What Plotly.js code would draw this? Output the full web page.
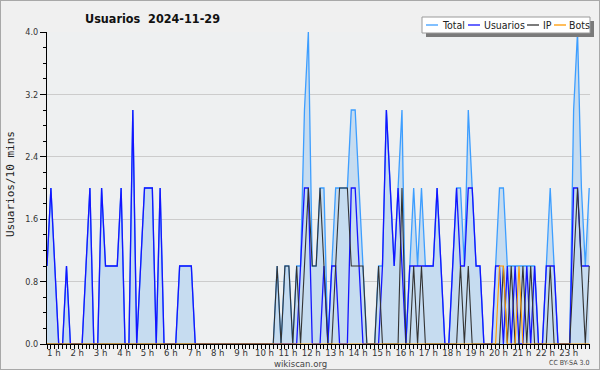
<!DOCTYPE html>
<html><head><meta charset="utf-8">
<script src="https://cdn.plot.ly/plotly-3.0.1.min.js"></script>
<style>
html,body{margin:0;padding:0;background:#f0f0f0;}
#wrap{width:600px;height:370px;box-sizing:border-box;border:1px solid #a8a8a8;background:#f0f0f0;}
#chart{width:598px;height:368px;}
</style></head><body>
<div id="wrap"><div id="chart"></div></div>
<script>
// values per 10-minute slot
const total = [
 1,2,1,0,0,1,0,0,0,0,
 1,2,0,0,2,1,1,1,1,2,
 0,0,3,0,1,2,2,2,0,2,
 0,0,0,0,1,1,1,1,0,0,
 0,0,0,0,0,0,0,0,0,0,
 0,0,0,0,0,0,0,0,0,1,
 0,1,1,0,1,1,3,4,1,1,
 2,2,0,1,2,2,2,2,3,3,
 2,1,0,0,0,1,1,3,2,1,
 2,3,0,1,2,1,2,1,1,1,
 2,1,0,0,1,2,2,1,3,2,
 1,1,0,0,0,1,2,2,1,1,
 1,1,1,1,1,1,0,0,1,2,
 1,0,0,0,0,3,4,2,1,2];
const usuarios = [
 1,2,1,0,0,1,0,0,0,0,
 1,2,0,0,2,1,1,1,1,2,
 0,0,3,0,1,2,2,2,0,2,
 0,0,0,0,1,1,1,1,0,0,
 0,0,0,0,0,0,0,0,0,0,
 0,0,0,0,0,0,0,0,0,0,
 0,0,0,0,0,1,2,2,0,0,
 0,1,0,1,1,0,0,0,2,2,
 1,0,0,0,0,0,1,3,2,1,
 2,1,0,1,1,1,1,1,1,1,
 2,1,0,0,1,2,1,1,2,2,
 1,1,0,0,0,1,1,0,1,0,
 1,0,0,1,0,1,0,0,1,1,
 1,0,0,0,0,2,2,1,1,1];
const ip = [
 0,0,0,0,0,0,0,0,0,0,
 0,0,0,0,0,0,0,0,0,0,
 0,0,0,0,0,0,0,0,0,0,
 0,0,0,0,0,0,0,0,0,0,
 0,0,0,0,0,0,0,0,0,0,
 0,0,0,0,0,0,0,0,0,1,
 0,1,1,0,1,0,1,2,1,1,
 2,1,0,0,1,2,2,2,1,1,
 1,1,0,0,0,1,0,0,0,0,
 0,2,0,0,1,0,1,0,0,0,
 0,0,0,0,0,0,1,0,1,0,
 0,0,0,0,0,0,0,1,0,1,
 0,0,1,0,1,0,0,0,0,1,
 0,0,0,0,0,1,2,1,0,1];
const bots = [
 0,0,0,0,0,0,0,0,0,0,
 0,0,0,0,0,0,0,0,0,0,
 0,0,0,0,0,0,0,0,0,0,
 0,0,0,0,0,0,0,0,0,0,
 0,0,0,0,0,0,0,0,0,0,
 0,0,0,0,0,0,0,0,0,0,
 0,0,0,0,0,0,0,0,0,0,
 0,0,0,0,0,0,0,0,0,0,
 0,0,0,0,0,0,0,0,0,0,
 0,0,0,0,0,0,0,0,0,0,
 0,0,0,0,0,0,0,0,0,0,
 0,0,0,0,0,0,1,1,0,0,
 0,1,0,0,0,0,0,0,0,0,
 0,0,0,0,0,0,0,0,0,0];
const hourLabels = ["1 h","2 h","3 h","4 h","5 h","6 h","7 h","8 h","9 h","10 h","11 h","12 h",
  "13 h","14 h","15 h","16 h","17 h","18 h","19 h","20 h","21 h","22 h","23 h"];
const seriesNames = ["Total","Usuarios","IP","Bots"];
const seriesColors = ["#3d9eff","#1414ff","#333333","#ff9900"];

const idx = total.map((_, i) => i);
const hourPos = hourLabels.map((_, k) => 6 * (k + 1) - 4.25);

// pixel helpers (plot area: x 47..590, y 32..344 in page px)
const PL = 47, PW = 543, PB = 344, PH = 312;
const px = p => (p - PL) / PW;
const py = p => (PB - p) / PH;

const mk = (y, n, w, extra) => Object.assign({
  x: idx, y: y, name: seriesNames[n], type: 'scatter', mode: 'lines',
  line: {color: seriesColors[n], width: w}, showlegend: false, hoverinfo: 'skip'
}, extra || {});

const data = [
  mk(total, 0, 1.3, {fill: 'tozeroy', fillcolor: '#c6dcf0'}),
  mk(usuarios, 1, 1.3),
  mk(ip, 2, 1.1),
  mk(bots, 3, 1.1)
];

const font = 'DejaVu Sans Condensed, DejaVu Sans, sans-serif';
const shapes = [
  {type:'rect', xref:'paper', yref:'paper', x0:px(426), x1:px(594), y0:py(37), y1:py(21), fillcolor:'#7a7a7a', line:{width:0}},
  {type:'rect', xref:'paper', yref:'paper', x0:px(422), x1:px(590), y0:py(33), y1:py(17), fillcolor:'#ffffff', line:{color:'#9a9a9a', width:1}}
];
const sampleX = [426, 468, 527, 554];
const textX = [441, 483, 542, 568];
const annotations = [];
seriesNames.forEach((nm, i) => {
  shapes.push({type:'line', xref:'paper', yref:'paper', x0:px(sampleX[i]), x1:px(sampleX[i] + 12),
    y0:py(25), y1:py(25), line:{color: seriesColors[i], width:1.3}});
  annotations.push({xref:'paper', yref:'paper', x:px(textX[i]), y:py(25), xanchor:'left', yanchor:'middle',
    text: nm, showarrow:false, borderpad:0, font:{family:font, size:10.5, color:'#222'}});
});
annotations.push({xref:'paper', yref:'paper', x:px(10), y:py(184), text:'Usuarios/10 mins', textangle:-90,
  showarrow:false, xanchor:'center', yanchor:'middle', font:{family:'DejaVu Sans Mono, monospace', size:11, color:'#222'}});
annotations.push({xref:'paper', yref:'paper', x:px(300), y:py(363), text:'wikiscan.org', showarrow:false, borderpad:0,
  xanchor:'center', yanchor:'middle', font:{family:font, size:9.5, color:'#444'}});
annotations.push({xref:'paper', yref:'paper', x:px(590), y:py(363), text:'CC BY-SA 3.0', showarrow:false, borderpad:0,
  xanchor:'right', yanchor:'middle', font:{family:font, size:7, color:'#444'}});

const layout = {
  width: 598, height: 368,
  margin: {l:46, r:9, t:31, b:25},
  paper_bgcolor: '#f0f0f0', plot_bgcolor: '#eef0f1',
  title: {text: 'Usuarios\u00a0\u00a02024-11-29', xref:'container', yref:'container',
    x: 84/598, xanchor:'left', y: 1 - 17.5/368, yanchor:'middle',
    font: {family: font, size: 12.5, weight: 'bold', color:'#111'}},
  xaxis: {range:[0, 139.2], showgrid:false, zeroline:false, showline:true, linecolor:'#000', linewidth:1,
    tickmode:'array', tickvals: hourPos, ticktext: hourLabels, ticks:'outside', ticklen:0.01, tickcolor:'#000',
    tickfont:{family:font, size:9.5, color:'#333'},
    minor:{ticks:'outside', ticklen:4, tickwidth:1, tickcolor:'#000', tickmode:'linear', tick0:0, dtick:1, showgrid:false}},
  yaxis: {range:[0, 4], tickmode:'linear', tick0:0, dtick:0.8, tickformat:'.1f', ticks:'outside', ticklen:6,
    tickcolor:'#000', showline:true, linecolor:'#000', linewidth:1, showgrid:true, gridcolor:'#cccccc', gridwidth:1,
    zeroline:false, tickfont:{family:font, size:9, color:'#333'},
    minor:{ticks:'outside', ticklen:3, tickcolor:'#000', tickmode:'linear', tick0:0, dtick:0.2, showgrid:false}},
  shapes: shapes,
  annotations: annotations,
  hovermode: false
};
Plotly.newPlot('chart', data, layout, {staticPlot:true, displayModeBar:false});
</script>
</body></html>
